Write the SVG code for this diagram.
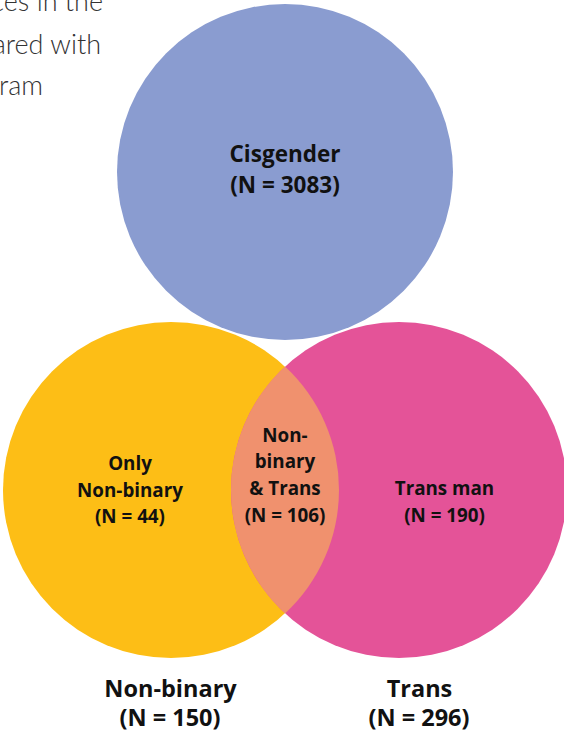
<svg xmlns="http://www.w3.org/2000/svg" width="564" height="732" viewBox="0 0 564 732">
<style>
.intro{font-family:Lato,"Open Sans","Liberation Sans",sans-serif;font-weight:300;font-size:27px;fill:#333333}
.lbl{font-family:"Open Sans","Noto Sans","Liberation Sans",sans-serif;font-weight:700;fill:#111;text-anchor:middle}
.big{font-size:22.5px}
.out{font-size:23.5px}
.in{font-size:18.8px}
</style>
<rect width="564" height="732" fill="#ffffff"/>
<g id="intro-text">
<text class="intro" x="103" y="10.5" text-anchor="end">ces in the</text>
<text class="intro" x="101" y="53.5" text-anchor="end">ared with</text>
<text class="intro" x="43" y="95" text-anchor="end">ram</text>
</g>
<g id="cisgender">
<circle cx="285" cy="172" r="168" fill="#8A9CD0"/>
<text class="lbl big" x="285" y="162">Cisgender</text>
<text class="lbl big" x="285" y="193">(N = 3083)</text>
</g>
<g id="non-binary">
<circle cx="171" cy="490" r="168" fill="#FDBE16"/>
<text class="lbl in" x="130" y="470">Only</text>
<text class="lbl in" x="130" y="497">Non-binary</text>
<text class="lbl in" x="130" y="523">(N = 44)</text>
</g>
<g id="trans">
<circle cx="399" cy="490" r="168" fill="#E45398"/>
<text class="lbl in" x="444.5" y="495">Trans man</text>
<text class="lbl in" x="444.5" y="522">(N = 190)</text>
</g>
<g id="overlap">
<path d="M285,366.6 A168,168 0 0 1 285,613.4 A168,168 0 0 1 285,366.6 Z" fill="#F0916E"/>
<text class="lbl in" x="285" y="442">Non-</text>
<text class="lbl in" x="285" y="468">binary</text>
<text class="lbl in" x="285" y="495">&amp; Trans</text>
<text class="lbl in" x="285" y="522">(N = 106)</text>
</g>
<g id="non-binary-label">
<text class="lbl out" x="170.5" y="696.5">Non-binary</text>
<text class="lbl out" x="170" y="725.5">(N = 150)</text>
</g>
<g id="trans-label">
<text class="lbl out" x="419.5" y="696.5">Trans</text>
<text class="lbl out" x="419" y="725.5">(N = 296)</text>
</g>
</svg>
